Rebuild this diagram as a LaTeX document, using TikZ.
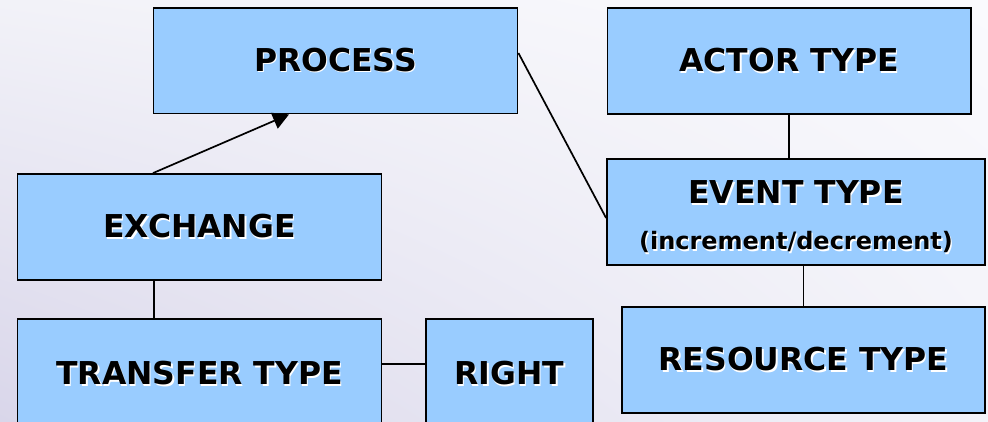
\documentclass[tikz,border=0pt]{standalone}
\usepackage{fontspec}
\setmainfont{DejaVu Sans}
\usetikzlibrary{arrows.meta,calc,shadings}

\definecolor{boxblue}{HTML}{99CCFF}
\definecolor{bgll}{HTML}{D9D6EA}
\definecolor{bgul}{HTML}{F2F2F8}
\definecolor{bglr}{HTML}{F3F3F9}
\definecolor{bgur}{HTML}{FAFAFD}

% text with a small white drop shadow
\newcommand{\shd}[1]{\rlap{\raisebox{-1.3pt}{\hspace{1.3pt}\textcolor{white}{#1}}}#1}

\tikzset{
  entity/.style={draw=black, line width=1.8pt, fill=boxblue, inner sep=0pt,
    font=\fontsize{31.5}{36}\selectfont\bfseries, text=black},
  caption/.style={inner sep=0pt, text=black},
  link/.style={draw=black, line width=1.7pt},
  arrowlink/.style={link, -{Triangle[length=16pt,width=17pt]}},
}

\begin{document}
\begin{tikzpicture}[x=1pt,y=-1pt]
  % page background
  \shade[lower left=bgll, upper left=bgul, lower right=bglr, upper right=bgur]
    (0,0) rectangle (988,422);
  \useasboundingbox (0,0) rectangle (988,422);
  \clip (0,0) rectangle (988,422);

  % entities
  \node[entity, minimum width=364pt, minimum height=105.5pt] (process) at (335.5,60.75) {\shd{PROCESS}};
  \node[entity, minimum width=363.5pt, minimum height=106pt] (actor) at (789.25,61) {\shd{ACTOR TYPE}};
  \node[entity, minimum width=378pt, minimum height=106pt] (event) at (796,212) {};
  \node[caption, font=\fontsize{31.5}{36}\selectfont\bfseries] (eventname) at (796,193) {\shd{EVENT TYPE}};
  \node[caption, anchor=base, font=\fontsize{24}{28}\selectfont\bfseries] (eventnote) at (796,250) {\shd{(increment/decrement)}};
  \node[entity, minimum width=364pt, minimum height=106pt] (exchange) at (199.5,227) {\shd{EXCHANGE}};
  \node[entity, minimum width=364pt, minimum height=110pt] (transfer) at (199.5,374) {\shd{TRANSFER TYPE}};
  \node[entity, minimum width=167pt, minimum height=110pt] (right) at (509.5,374) {\shd{RIGHT}};
  \node[entity, minimum width=363pt, minimum height=106pt] (resource) at (803.5,360) {\shd{RESOURCE TYPE}};

  % connectors
  \draw[arrowlink] ([xshift=-46.5pt]exchange.north) -- ([xshift=-46.5pt]process.south);
  \draw[link] ([yshift=7.75pt]process.east) -- ([yshift=-6pt]event.west);
  \draw[link] (actor.south) -- (actor.south |- event.north);
  \draw[link] (resource.north |- event.south) -- (resource.north);
  \draw[link] ([xshift=-45.5pt]exchange.south) -- ([xshift=-45.5pt]transfer.north);
  \coordinate (transferport) at ([yshift=10pt]transfer.east);
  \draw[link] (transferport) -- (right.west |- transferport);
\end{tikzpicture}
\end{document}
